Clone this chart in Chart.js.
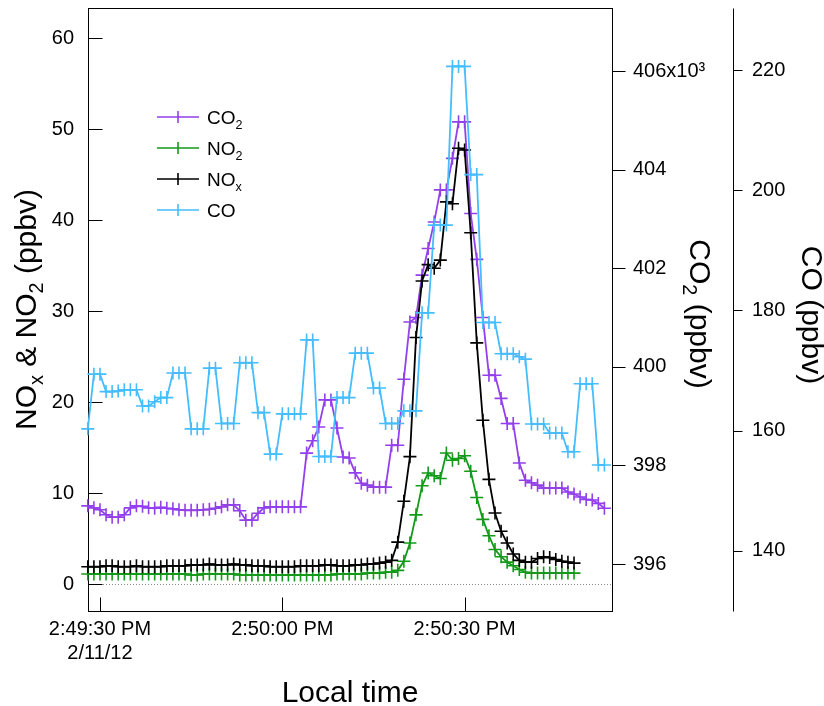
<!DOCTYPE html>
<html>
<head>
<meta charset="utf-8">
<script src="https://cdn.jsdelivr.net/npm/chart.js@4.4.1/dist/chart.umd.min.js"></script>
<style>
  html, body { margin: 0; padding: 0; background: #fff; }
  #wrap { width: 824px; height: 706px; }
</style>
</head>
<body>
<div id="wrap"><canvas id="plume" width="824" height="706"></canvas></div>
<script>
// time axis: seconds after 2:49:30 PM, one sample per second
const firstSecond = -2;

// NOx and NO2, ppbv (t = -2 .. 78)
const noxPpbv = [
  1.9, 1.9, 1.9, 2.0, 2.0, 1.9, 1.9, 1.9, 2.0, 1.9, 1.9, 1.9, 1.9,
  2.0, 2.0, 2.0, 2.0, 2.1, 2.1, 2.1, 2.2, 2.1, 2.1,
  2.1, 2.2, 2.1, 2.1, 2.0, 2.0, 2.0, 1.9, 1.9, 1.9,
  1.9, 1.9, 2.0, 2.0, 2.0, 2.0, 2.1, 2.1, 2.0, 2.0,
  2.0, 2.1, 2.1, 2.2, 2.2, 2.3, 2.4, 2.6, 4.6, 9.1,
  14.0, 27.1, 33.3, 35.1, 34.7, 35.6, 42.0, 41.8, 47.9, 47.7,
  38.6, 26.5, 18.0, 11.5, 7.8, 5.8, 4.5, 3.3, 2.6, 2.4,
  2.4, 2.8, 3.0, 2.9, 2.7, 2.5, 2.4, 2.3
];
const no2Ppbv = [
  1.1, 1.1, 1.1, 1.1, 1.1, 1.1, 1.1, 1.1, 1.1, 1.1, 1.1, 1.1, 1.1,
  1.1, 1.1, 1.1, 1.1, 1.0, 1.0, 1.1, 1.1, 1.1, 1.1,
  1.1, 1.1, 1.0, 1.0, 1.0, 1.0, 1.0, 1.0, 1.0, 1.0,
  1.0, 1.0, 1.0, 1.0, 1.0, 1.0, 1.0, 1.0, 1.1, 1.1,
  1.1, 1.1, 1.1, 1.2, 1.2, 1.2, 1.3, 1.3, 1.5, 2.5,
  4.5, 7.6, 10.8, 12.2, 11.9, 11.6, 14.4, 13.6, 13.8, 14.1,
  12.4, 9.5, 7.1, 5.3, 3.8, 3.0, 2.4, 2.0, 1.6, 1.3,
  1.2, 1.2, 1.2, 1.2, 1.2, 1.2, 1.2, 1.2
];

// CO2 in 10^3 ppbv and CO in ppbv (t = -2 .. 83)
const co2Kppbv = [
  397.18, 397.14, 397.10, 397.00, 396.95, 396.95, 397.00, 397.14, 397.18, 397.17, 397.14,
  397.13, 397.15, 397.13, 397.12, 397.10, 397.09, 397.09, 397.09, 397.10, 397.11,
  397.13, 397.16, 397.20, 397.20, 397.08, 396.89, 396.89, 397.03, 397.14, 397.16,
  397.16, 397.16, 397.16, 397.16, 397.16, 398.25, 398.50, 398.78, 399.33, 399.33,
  398.76, 398.17, 398.15, 397.85, 397.64, 397.60, 397.56, 397.56, 397.56, 398.41,
  398.41, 399.75, 400.91, 401.00, 401.86, 402.40, 402.94, 403.59, 403.59, 404.23,
  404.97, 404.97, 403.11, 402.18, 401.00, 399.83, 399.83, 399.36, 398.85, 398.85,
  398.05, 397.70, 397.65, 397.60, 397.54, 397.54, 397.54, 397.54, 397.46, 397.42,
  397.36, 397.31, 397.30, 397.23, 397.13
];
const coPpbv = [
  160.3, 169.4, 169.4, 166.5, 166.5, 166.6, 166.8, 166.8, 166.8, 164.1, 164.1,
  164.8, 165.5, 165.5, 169.6, 169.6, 169.6, 160.3, 160.3, 160.3, 170.4,
  170.4, 161.2, 161.2, 161.2, 171.3, 171.3, 171.3, 163.0, 163.0, 156.1,
  156.1, 162.8, 162.8, 162.8, 162.8, 175.1, 175.1, 155.7, 155.7, 155.7,
  165.5, 165.5, 165.5, 172.9, 172.9, 172.9, 167.1, 167.1, 161.2, 161.2,
  161.2, 163.3, 163.3, 163.3, 179.6, 179.6, 194.2, 194.2, 194.2, 220.6,
  220.6, 220.6, 202.6, 202.6, 178.0, 178.0, 178.0, 172.8, 172.8, 172.8,
  172.3, 171.9, 161.1, 161.1, 161.1, 159.6, 159.6, 159.6, 156.5, 156.5,
  167.8, 167.8, 167.8, 154.3, 154.3
];

const noxTicks = [0, 10, 20, 30, 40, 50, 60];
const co2Ticks = [396, 398, 400, 402, 404, 406];
const coTicks = [140, 160, 180, 200, 220];
const timeTicks = [0, 30, 60];
const timeTickLabels = [['2:49:30 PM', '2/11/12'], '2:50:00 PM', '2:50:30 PM'];

const colors = { co2: '#9340ec', no2: '#14991a', nox: '#000000', co: '#45bdff' };
const FAMILY = "'Liberation Sans', Arial, Helvetica, sans-serif";
const font = (size) => `${size}px ${FAMILY}`;

const series = (values) => values.map((v, i) => ({ x: firstSecond + i, y: v }));

function traceStyle(color) {
  return {
    borderColor: color, backgroundColor: color,
    borderWidth: 1.8, pointStyle: 'cross', pointRadius: 6.5,
    pointBorderWidth: 1.6, pointHoverRadius: 6.5, tension: 0, clip: false,
  };
}

// fixed axis boxes so the plot frame lands where it should
function fixBox(size) {
  return (s) => {
    if (s.isHorizontal()) s.height = size; else s.width = size;
    s.paddingTop = s.paddingBottom = s.paddingLeft = s.paddingRight = 0;
  };
}

// text with subscript runs, drawn left to right from x
function richWidth(ctx, parts, size) {
  let w = 0;
  for (const p of parts) {
    ctx.font = font(p.sub ? size * 0.66 : size);
    w += ctx.measureText(p.text).width;
  }
  return w;
}
function drawRich(ctx, parts, x, y, size) {
  let cx = x;
  for (const p of parts) {
    ctx.font = font(p.sub ? size * 0.66 : size);
    ctx.fillText(p.text, cx, p.sub ? y + size * 0.24 : y);
    cx += ctx.measureText(p.text).width;
  }
}
function drawRotated(ctx, parts, cx, cy, size, angle) {
  ctx.save();
  ctx.translate(cx, cy);
  ctx.rotate(angle);
  ctx.textAlign = 'left';
  ctx.textBaseline = 'alphabetic';
  drawRich(ctx, parts, -richWidth(ctx, parts, size) / 2, 0, size);
  ctx.restore();
}

const axisDecor = {
  id: 'axisDecor',
  beforeDatasetsDraw(chart) {
    const { ctx, chartArea: a, scales } = chart;
    const px = (v) => Math.round(v) + 0.5;
    ctx.save();
    ctx.lineWidth = 1;

    // dotted zero line
    const y0 = px(scales.y.getPixelForValue(0));
    ctx.strokeStyle = '#8a8a8a';
    ctx.setLineDash([1, 2]);
    ctx.beginPath(); ctx.moveTo(a.left, y0); ctx.lineTo(a.right, y0); ctx.stroke();
    ctx.setLineDash([]);

    ctx.strokeStyle = '#000';
    ctx.strokeRect(px(a.left), px(a.top), Math.round(a.right - a.left), Math.round(a.bottom - a.top));

    ctx.beginPath();
    for (const v of noxTicks) {
      const y = px(scales.y.getPixelForValue(v));
      ctx.moveTo(px(a.left), y); ctx.lineTo(px(a.left) + 14, y);
    }
    for (const v of timeTicks) {
      const x = px(scales.x.getPixelForValue(v));
      ctx.moveTo(x, px(a.bottom)); ctx.lineTo(x, px(a.bottom) - 14);
    }
    for (const v of co2Ticks) {
      const y = px(scales.y1.getPixelForValue(v));
      ctx.moveTo(px(a.right), y); ctx.lineTo(px(a.right) + 13, y);
    }
    // free CO axis
    const coX = px(scales.y2.left);
    ctx.moveTo(coX, px(a.top)); ctx.lineTo(coX, px(a.bottom));
    for (const v of coTicks) {
      const y = px(scales.y2.getPixelForValue(v));
      ctx.moveTo(coX, y); ctx.lineTo(coX + 9, y);
    }
    ctx.stroke();
    ctx.restore();
  },
  afterDraw(chart) {
    const { ctx, chartArea: a } = chart;
    ctx.save();
    ctx.fillStyle = '#000';

    // axis titles
    const titleSize = 30;
    drawRotated(ctx, [{ text: 'NO' }, { text: 'x', sub: true }, { text: ' & NO' }, { text: '2', sub: true }, { text: ' (ppbv)' }],
      36, (a.top + a.bottom) / 2, titleSize, -Math.PI / 2);
    drawRotated(ctx, [{ text: 'CO' }, { text: '2', sub: true }, { text: ' (ppbv)' }],
      690, 314, titleSize, Math.PI / 2);
    drawRotated(ctx, [{ text: 'CO (ppbv)' }], 802, 315, titleSize, Math.PI / 2);
    ctx.textAlign = 'center';
    ctx.textBaseline = 'alphabetic';
    ctx.font = font(titleSize);
    ctx.fillText('Local time', (a.left + a.right) / 2, 702);

    // legend inside the plot
    const legendSize = 19;
    chart.data.datasets.forEach((ds, i) => {
      const y = 117 + i * 31;
      ctx.strokeStyle = ds.borderColor;
      ctx.lineWidth = 1.6;
      ctx.beginPath();
      ctx.moveTo(157, y); ctx.lineTo(199, y);
      ctx.moveTo(178, y - 6); ctx.lineTo(178, y + 6);
      ctx.stroke();
      ctx.textAlign = 'left';
      ctx.fillStyle = '#000';
      drawRich(ctx, ds.nameParts, 207, y + 7, legendSize);
    });
    ctx.restore();
  }
};

const tickFont = { family: FAMILY, size: 20 };

new Chart(document.getElementById('plume'), {
  type: 'line',
  data: {
    datasets: [
      { label: 'CO2', nameParts: [{ text: 'CO' }, { text: '2', sub: true }], data: series(co2Kppbv), yAxisID: 'y1', order: 3, ...traceStyle(colors.co2) },
      { label: 'NO2', nameParts: [{ text: 'NO' }, { text: '2', sub: true }], data: series(no2Ppbv), yAxisID: 'y', order: 2, ...traceStyle(colors.no2) },
      { label: 'NOx', nameParts: [{ text: 'NO' }, { text: 'x', sub: true }], data: series(noxPpbv), yAxisID: 'y', order: 1, ...traceStyle(colors.nox) },
      { label: 'CO', nameParts: [{ text: 'CO' }], data: series(coPpbv), yAxisID: 'y2', order: 0, ...traceStyle(colors.co) },
    ],
  },
  options: {
    responsive: false,
    animation: false,
    events: [],
    layout: { padding: { top: 8, left: 0, right: 0, bottom: 0 } },
    plugins: { legend: { display: false }, tooltip: { enabled: false } },
    scales: {
      x: {
        type: 'linear', min: -1.97, max: 84.25,
        afterBuildTicks: (s) => { s.ticks = timeTicks.map((v) => ({ value: v })); },
        afterFit: fixBox(95),
        grid: { display: false, drawTicks: false }, border: { display: false },
        ticks: { padding: 6, maxRotation: 0, autoSkip: false, color: '#000', font: tickFont,
          callback: (v) => timeTickLabels[timeTicks.indexOf(v)] },
      },
      y: {
        position: 'left', min: -2.967, max: 63.297,
        afterBuildTicks: (s) => { s.ticks = noxTicks.map((v) => ({ value: v })); },
        afterFit: fixBox(88),
        grid: { display: false, drawTicks: false }, border: { display: false },
        ticks: { padding: 14, color: '#000', font: tickFont },
      },
      y1: {
        position: 'right', weight: 0, min: 395.047, max: 407.278,
        afterBuildTicks: (s) => { s.ticks = co2Ticks.map((v) => ({ value: v })); },
        afterFit: fixBox(121),
        grid: { display: false, drawTicks: false }, border: { display: false },
        ticks: { padding: 21, color: '#000', font: tickFont,
          callback: (v) => (v === 406 ? '406x10³' : String(v)) },
      },
      y2: {
        position: 'right', weight: 1, min: 130.0, max: 230.3,
        afterBuildTicks: (s) => { s.ticks = coTicks.map((v) => ({ value: v })); },
        afterFit: fixBox(91),
        grid: { display: false, drawTicks: false }, border: { display: false },
        ticks: { padding: 19, color: '#000', font: tickFont },
      },
    },
  },
  plugins: [axisDecor],
});
</script>
</body>
</html>
